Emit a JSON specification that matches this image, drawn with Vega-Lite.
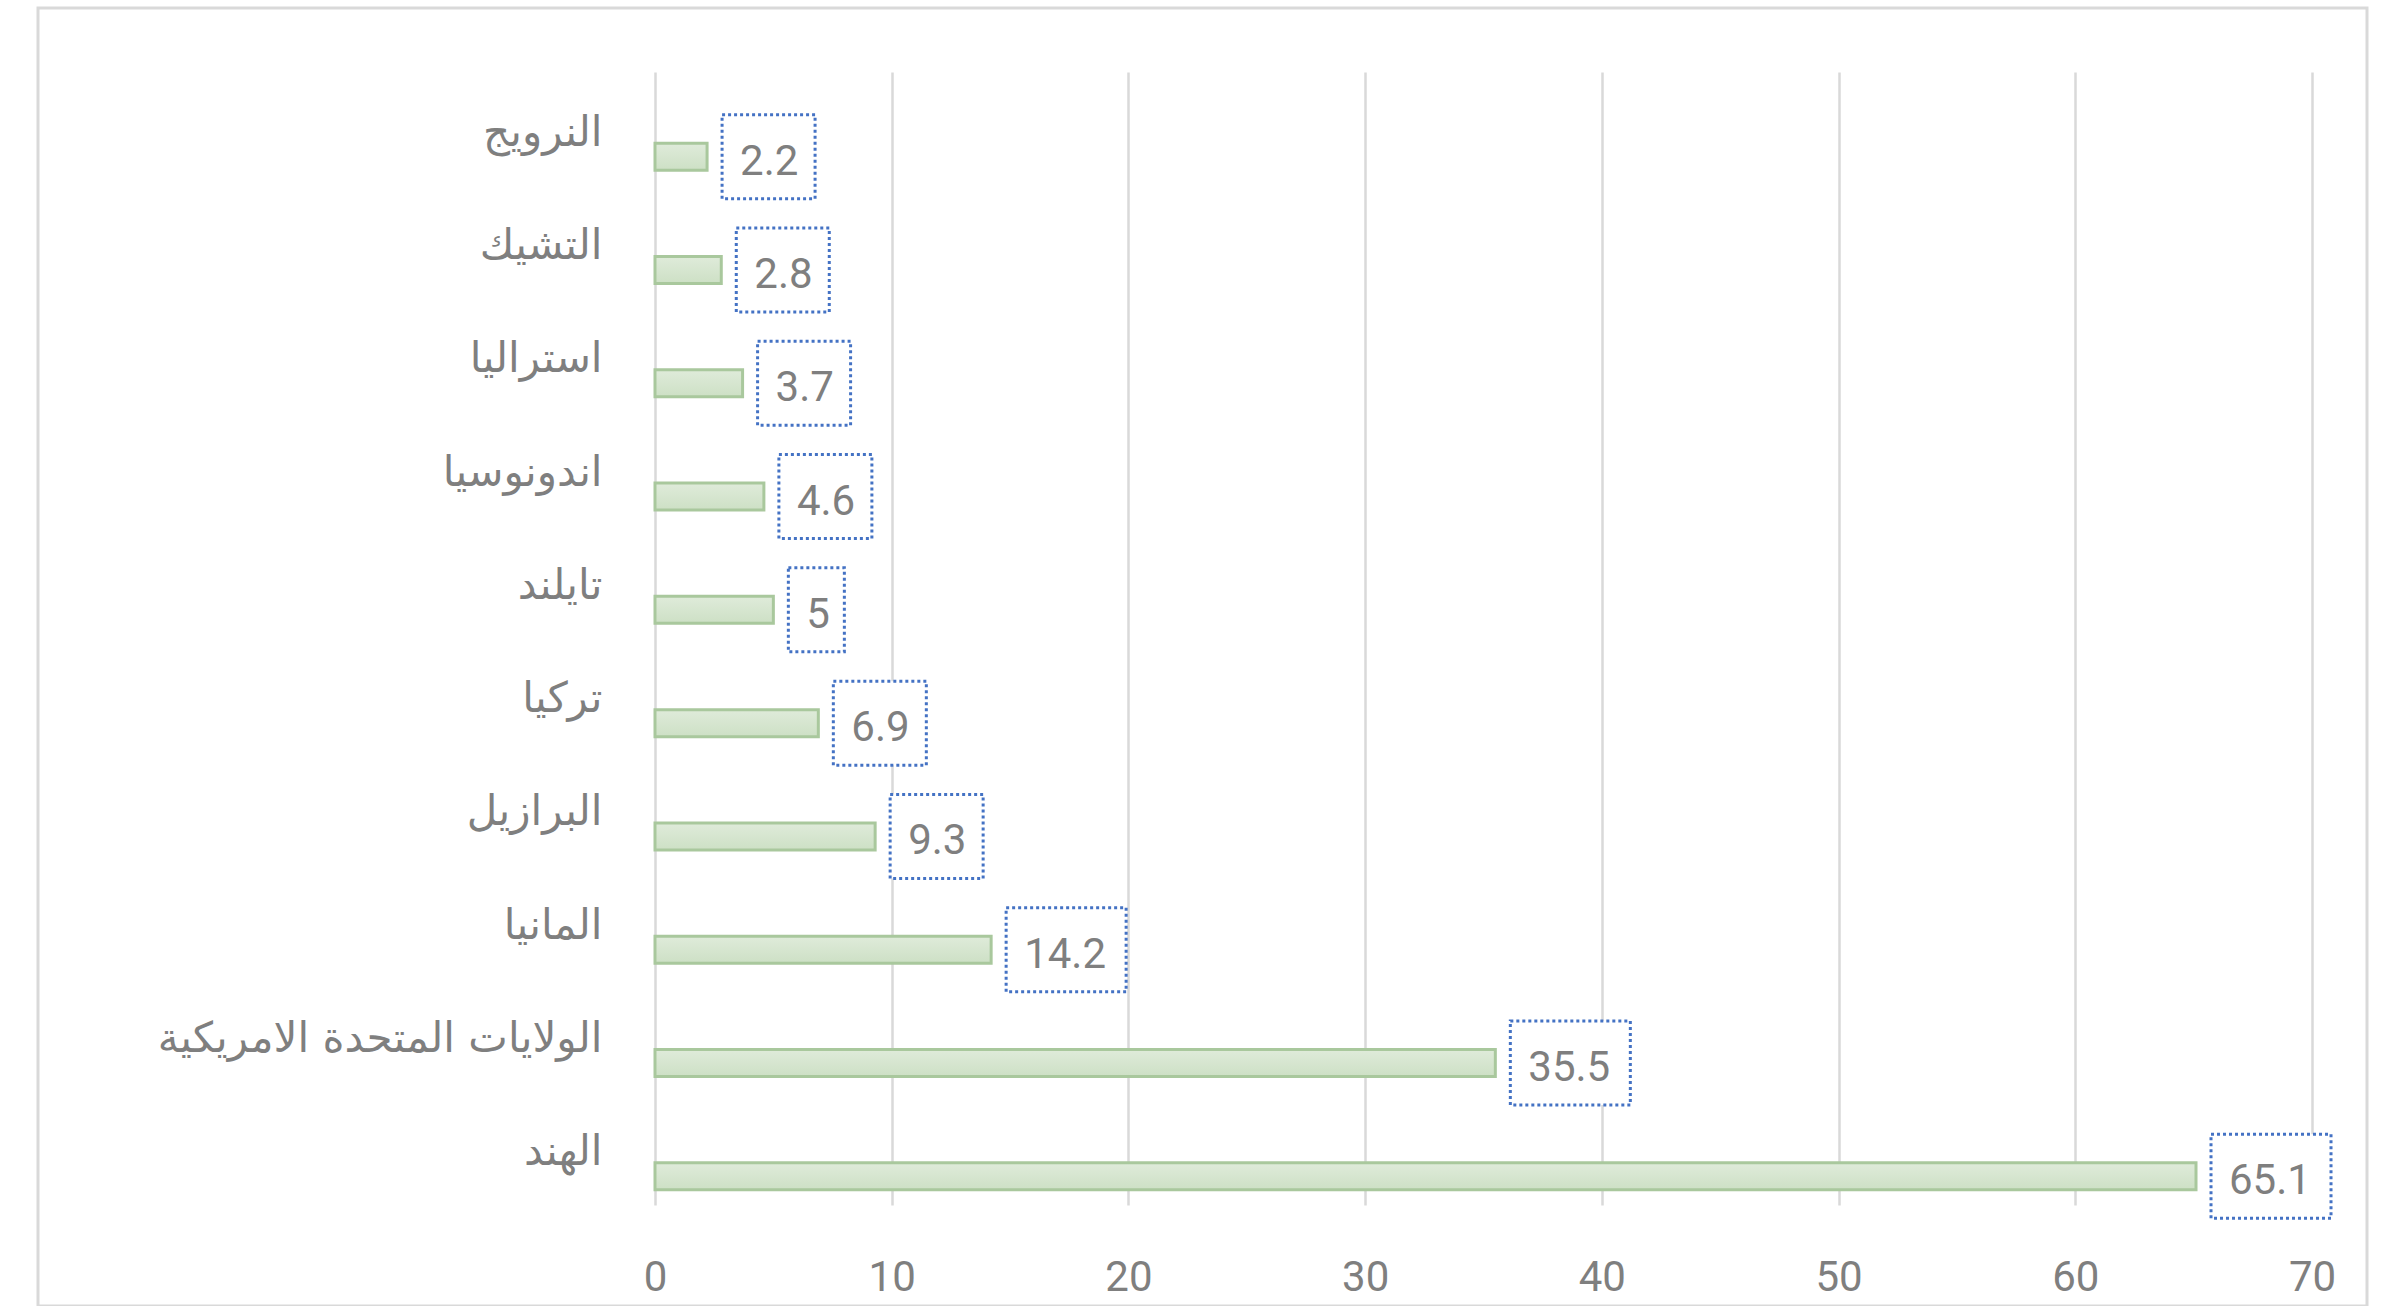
{
  "$schema": "https://vega.github.io/schema/vega-lite/v6.json",
  "autosize": {"type": "none"},
  "padding": {"left": 38, "top": 8, "right": 27, "bottom": 0},
  "width": 2329,
  "height": 1298,
  "background": "white",
  "config": {"view": {"stroke": "#d9d9d9", "strokeWidth": 3}},
  "data": {
    "values": [
      {"country": "النرويج", "value": 2.2},
      {"country": "التشيك", "value": 2.8},
      {"country": "استراليا", "value": 3.7},
      {"country": "اندونوسيا", "value": 4.6},
      {"country": "تايلند", "value": 5},
      {"country": "تركيا", "value": 6.9},
      {"country": "البرازيل", "value": 9.3},
      {"country": "المانيا", "value": 14.2},
      {"country": "الولايات المتحدة الامريكية", "value": 35.5},
      {"country": "الهند", "value": 65.1}
    ]
  },
  "encoding": {
    "y": {
      "field": "country", "type": "nominal", "sort": null,
      "scale": {"paddingInner": 0, "paddingOuter": 0, "range": [64, 1197]},
      "axis": {
        "title": null, "domain": false, "ticks": false, "tickSize": 0, "grid": false,
        "offset": -617,
        "labelPadding": 53, "labelFontSize": 42, "labelFont": "DejaVu Sans",
        "labelColor": "#7f7f7f", "labelAlign": "right", "labelBaseline": "middle",
        "labelOffset": 4, "labelLimit": 600
      }
    }
  },
  "layer": [
    {
      "mark": {
        "type": "bar", "height": 27, "yOffset": 28,
        "fill": {"gradient": "linear", "x1": 0, "y1": 0, "x2": 0, "y2": 1,
                 "stops": [{"offset": 0, "color": "#dfebda"}, {"offset": 1, "color": "#cde0c5"}]},
        "stroke": "#a9c89d", "strokeWidth": 3
      },
      "encoding": {
        "x": {
          "field": "value", "type": "quantitative",
          "scale": {"domain": [0, 70], "nice": false, "zero": true, "range": [617, 2274]},
          "axis": {
            "orient": "top",
            "title": null, "domain": false, "ticks": false, "tickSize": 0, "grid": true,
            "gridColor": "#d9d9d9", "gridWidth": 2.5,
            "offset": -1197,
            "values": [0, 10, 20, 30, 40, 50, 60, 70],
            "labelFontSize": 42, "labelFont": "Roboto", "labelColor": "#7f7f7f",
            "labelPadding": -52, "labelBaseline": "top", "labelFlush": false
          }
        }
      }
    },
    {
      "transform": [{"filter": "datum.value < 10 && datum.value % 1 == 0"}],
      "mark": {"type": "bar", "height": 84, "yOffset": 28, "xOffset": 15, "x2Offset": 71,
               "fill": "white", "stroke": "#4472c4", "strokeWidth": 3, "strokeDash": [3, 3]},
      "encoding": {"x": {"field": "value", "type": "quantitative"}, "x2": {"field": "value"}}
    },
    {
      "transform": [{"filter": "datum.value < 10 && datum.value % 1 != 0"}],
      "mark": {"type": "bar", "height": 84, "yOffset": 28, "xOffset": 15, "x2Offset": 108,
               "fill": "white", "stroke": "#4472c4", "strokeWidth": 3, "strokeDash": [3, 3]},
      "encoding": {"x": {"field": "value", "type": "quantitative"}, "x2": {"field": "value"}}
    },
    {
      "transform": [{"filter": "datum.value >= 10"}],
      "mark": {"type": "bar", "height": 84, "yOffset": 28, "xOffset": 15, "x2Offset": 135,
               "fill": "white", "stroke": "#4472c4", "strokeWidth": 3, "strokeDash": [3, 3]},
      "encoding": {"x": {"field": "value", "type": "quantitative"}, "x2": {"field": "value"}}
    },
    {
      "mark": {"type": "text", "align": "left", "baseline": "middle", "dx": 33, "yOffset": 33,
               "font": "Roboto", "fontSize": 42, "fill": "#7f7f7f"},
      "encoding": {
        "x": {"field": "value", "type": "quantitative"},
        "text": {"field": "value", "type": "quantitative"}
      }
    }
  ]
}
